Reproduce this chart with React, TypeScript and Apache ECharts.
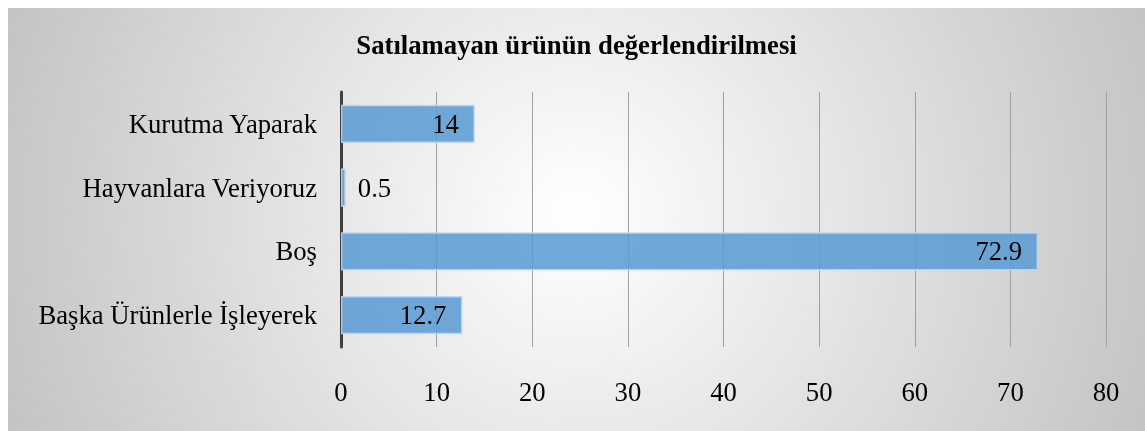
import React, { useEffect, useRef } from "react";
import * as echarts from "echarts";

const titleText = "Satılamayan ürünün değerlendirilmesi";
const categories = ["Kurutma Yaparak", "Hayvanlara Veriyoruz", "Boş", "Başka Ürünlerle İşleyerek"];
const values = [14, 0.5, 72.9, 12.7];
const xTicks = { min: 0, max: 80, interval: 10 };

const FONT = "'Liberation Serif', 'Times New Roman', serif";
const FS = 26.7;

export default function App() {
  const ref = useRef<HTMLDivElement>(null);
  useEffect(() => {
    if (!ref.current) return;
    const chart = echarts.init(ref.current, undefined, { renderer: "svg" });
    chart.setOption({
      animation: false,
      backgroundColor: {
        type: "radial",
        x: 568,
        y: 207,
        r: 600,
        global: true,
        colorStops: [
          { offset: 0, color: "#ffffff" },
          { offset: 1, color: "#c4c4c4" },
        ],
      },
      title: {
        text: titleText,
        left: "center",
        top: 18,
        textStyle: { fontFamily: FONT, fontSize: FS, fontWeight: "bold", color: "#000" },
      },
      grid: { left: 333, right: 39, top: 84, bottom: 84, containLabel: false },
      xAxis: {
        type: "value",
        min: xTicks.min,
        max: xTicks.max,
        interval: xTicks.interval,
        axisLine: { show: false },
        axisTick: { show: false },
        splitLine: { show: true, lineStyle: { color: "#a0a0a0", width: 1 } },
        axisLabel: { fontFamily: FONT, fontSize: FS, color: "#000", margin: 31 },
      },
      yAxis: {
        type: "category",
        data: categories,
        inverse: true,
        axisLine: { show: true, lineStyle: { color: "#404040", width: 3 } },
        axisTick: { show: false },
        axisLabel: { fontFamily: FONT, fontSize: FS, color: "#000", margin: 24 },
      },
      series: [
        {
          type: "bar",
          barCategoryGap: "40%",
          data: values.map((v) => ({
            value: v,
            label:
              v < 5
                ? { show: true, position: "right", distance: 12 }
                : { show: true, position: "insideRight", distance: 16 },
          })),
          itemStyle: {
            color: "rgba(91,155,213,0.87)",
            borderColor: "rgba(190,215,240,0.9)",
            borderWidth: 1.5,
          },
          label: { fontFamily: FONT, fontSize: FS, color: "#000" },
        },
      ],
    });
    return () => chart.dispose();
  }, []);
  return (
    <div
      ref={ref}
      style={{ position: "fixed", left: 8, top: 8, width: 1137, height: 423 }}
    />
  );
}
